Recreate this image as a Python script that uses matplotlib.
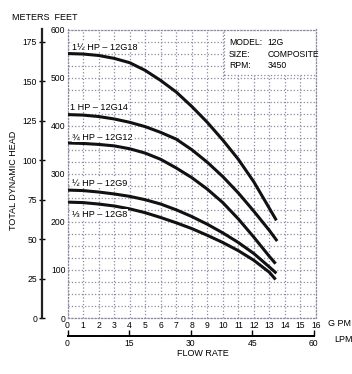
import matplotlib
matplotlib.use("Agg")
import matplotlib.pyplot as plt
from matplotlib.patches import Rectangle

plt.rcParams['font.family'] = ['Liberation Sans', 'DejaVu Sans']

# pump curves, flow in GPM, head in feet
gpm_18 = [0, 1, 2, 3, 4, 5, 6, 7, 8, 9, 10, 11, 12, 13, 13.45]
ft_18 = [550, 549, 546, 540, 531, 515, 494, 470, 440, 407, 370, 330, 283, 228, 203]

gpm_14 = [0, 1, 2, 3, 4, 5, 6, 7, 8, 9, 10, 11, 12, 13, 13.5]
ft_14 = [423, 422, 419, 414, 407, 398, 386, 372, 350, 324, 294, 260, 222, 182, 160]

gpm_12 = [0, 1, 2, 3, 4, 5, 6, 7, 8, 9, 10, 11, 12, 13, 13.4]
ft_12 = [364, 363, 361, 358, 352, 343, 330, 312, 292, 268, 240, 206, 168, 128, 113]

gpm_9 = [0, 1, 2, 3, 4, 5, 6, 7, 8, 9, 10, 11, 12, 13, 13.45]
ft_9 = [266, 265, 262, 258, 253, 246, 237, 225, 211, 195, 177, 157, 134, 106, 93]

gpm_8 = [0, 1, 2, 3, 4, 5, 6, 7, 8, 9, 10, 11, 12, 13, 13.4]
ft_8 = [241, 240, 237, 233, 227, 219, 209, 198, 186, 172, 157, 140, 120, 95, 80]

curve_labels = ["1½ HP – 12G18", "1 HP – 12G14", "¾ HP – 12G12", "½ HP – 12G9", "⅓ HP – 12G8"]
label_pos = [(0.3, 563), (0.15, 438), (0.3, 376), (0.3, 280), (0.3, 216)]

gpm_ticks = list(range(0, 17))
lpm_ticks = [0, 15, 30, 45, 60]
meter_ticks = [0, 25, 50, 75, 100, 125, 150, 175]
feet_ticks = [0, 100, 200, 300, 400, 500, 600]

info_keys = ["MODEL:", "SIZE:", "RPM:"]
info_vals = ["12G", "COMPOSITE", "3450"]

W, H = 352, 374
fig = plt.figure(figsize=(W / 100, H / 100), dpi=100)
ax = fig.add_axes([67.5 / W, 1 - 318 / H, 248.5 / W, 288.5 / H])

grid_col = '#8a8aa4'
ax.set_xlim(0, 16)
ax.set_ylim(0, 600)
ax.set_xticks(gpm_ticks)
ax.set_yticks(feet_ticks)
ax.set_yticks(range(0, 601, 25), minor=True)
ax.grid(True, which='both', color=grid_col, linestyle=':', linewidth=0.9)
ax.tick_params(which='both', length=0)
ax.tick_params(axis='x', pad=2, labelsize=6.2)
ax.tick_params(axis='y', pad=1.5, labelsize=6.2)
for s in ax.spines.values():
    s.set_color(grid_col)
    s.set_linestyle(':')
    s.set_linewidth(0.9)

for g, f in [(gpm_18, ft_18), (gpm_14, ft_14), (gpm_12, ft_12), (gpm_9, ft_9), (gpm_8, ft_8)]:
    ax.plot(g, f, color='#111111', linewidth=2.2, solid_capstyle='butt',
            solid_joinstyle='round', zorder=3)

for txt, (x, y) in zip(curve_labels, label_pos):
    ax.text(x, y, txt, fontsize=6.6, va='center', ha='left', zorder=4,
            bbox=dict(facecolor='white', edgecolor='none', pad=0.3))

# info box
ax.add_patch(Rectangle((10.1, 505), 5.9, 95, facecolor='white', edgecolor=grid_col,
                       linestyle=':', linewidth=0.9, zorder=2.5))
for i, (k, v) in enumerate(zip(info_keys, info_vals)):
    y = 573 - i * 24
    ax.text(10.4, y, k, fontsize=6.2, va='center', zorder=4)
    ax.text(12.9, y, v, fontsize=6.2, va='center', zorder=4)

# meters axis
sec_y = ax.secondary_yaxis((42 - 67.5) / 248.5, functions=(lambda f: f * 0.3048, lambda m: m / 0.3048))
sec_y.set_yticks(meter_ticks)
sec_y.tick_params(direction='inout', length=5, width=1, labelsize=6.2, pad=1)
sec_y.spines['left'].set_linewidth(1.6)
sec_y.spines['left'].set_color('#222222')

# LPM axis
sec_x = ax.secondary_xaxis((318 - 336) / 288.5, functions=(lambda g: g * 3.785, lambda l: l / 3.785))
sec_x.set_xticks(lpm_ticks)
sec_x.tick_params(direction='in', length=4, width=1, labelsize=6.2, pad=2)
sec_x.spines['bottom'].set_linewidth(1.4)
sec_x.spines['bottom'].set_linestyle((0, (1, 0.6)))
sec_x.spines['bottom'].set_bounds(0, 60)

fig.text(12 / W, 1 - 17 / H, "METERS  FEET", fontsize=6.5, va='center', ha='left')
fig.text(14 / W, 1 - 180 / H, "TOTAL DYNAMIC HEAD", fontsize=6.5, rotation=90, va='center', ha='center')
fig.text(328 / W, 1 - 324 / H, "G PM", fontsize=6.5, va='center', ha='left')
fig.text(334 / W, 1 - 339 / H, "LPM", fontsize=6.5, va='center', ha='left')
fig.text(203 / W, 1 - 353 / H, "FLOW RATE", fontsize=6.5, va='center', ha='center')

plt.savefig("out.png", dpi=100)
plt.close(fig)
